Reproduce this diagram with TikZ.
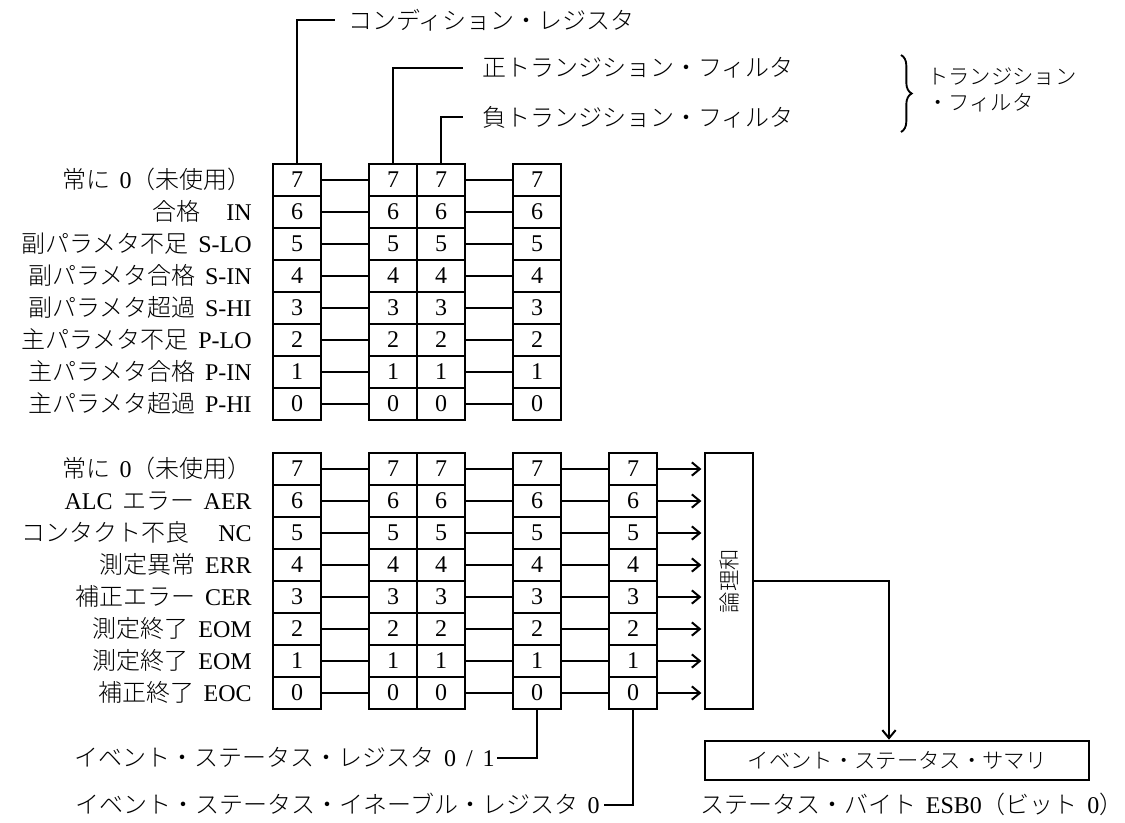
\documentclass[tikz,border=0pt]{standalone}
\usepackage{fontspec}
\setmainfont{Liberation Serif}
\newfontfamily\jpfont{Noto Sans CJK JP}[UprightFont=* Light]
\newcommand\jp[1]{{\jpfont #1}}
\newcommand\gap{\hspace{0.4em}}
\usetikzlibrary{arrows.meta,decorations.pathreplacing}
\begin{document}
\begin{tikzpicture}[x=0.75pt,y=-0.75pt,
  font=\fontsize{18}{21}\selectfont,
  cell/.style={draw,line width=1.4pt,minimum width=36pt,minimum height=24pt,inner sep=0pt},
  link/.style={line width=1pt},
  lead/.style={line width=1.4pt},
  lbl/.style={anchor=base east,inner sep=0pt},
  txt/.style={inner sep=0pt},
  small/.style={font=\fontsize{16}{19}\selectfont},
  arr/.style={line width=1.5pt,-{Straight Barb[length=6pt,width=10pt]},shorten >=2pt},
]
\useasboundingbox (0,0) rectangle (1125,822);

% OR box
\node[draw,line width=1.4pt,minimum width=36pt,minimum height=192pt,inner sep=0pt] (orbox) at (729,581) {};
\node[rotate=90,txt,small] (ortext) at (orbox.center) {\jp{論理和}};

% register cells
\foreach \r in {0,...,7}{
  \pgfmathsetmacro\yt{180+(7-\r)*32}
  \pgfmathsetmacro\yb{469+(7-\r)*32}
  \foreach \c/\x in {1/297,2/393,3/441,4/537}{
    \node[cell] (t\c-\r) at (\x,\yt) {\r};
  }
  \foreach \c/\x in {1/297,2/393,3/441,4/537,5/633}{
    \node[cell] (b\c-\r) at (\x,\yb) {\r};
  }
  \draw[link] (t1-\r) -- (t2-\r);
  \draw[link] (t3-\r) -- (t4-\r);
  \draw[link] (b1-\r) -- (b2-\r);
  \draw[link] (b3-\r) -- (b4-\r);
  \draw[link] (b4-\r) -- (b5-\r);
  \draw[arr] (b5-\r.east) -- (b5-\r.east -| orbox.west);
}

% labels, upper block
\foreach \r/\t in {7/{\jp{常に}\gap 0\jp{（未使用）}},
                   6/{\jp{合格}\hspace{1.1em}IN},
                   5/{\jp{副パラメタ不足}\gap S-LO},
                   4/{\jp{副パラメタ合格}\gap S-IN},
                   3/{\jp{副パラメタ超過}\gap S-HI},
                   2/{\jp{主パラメタ不足}\gap P-LO},
                   1/{\jp{主パラメタ合格}\gap P-IN},
                   0/{\jp{主パラメタ超過}\gap P-HI}}{
  \node[lbl] (tl-\r) at (252,{188+(7-\r)*32}) {\t};
}
% labels, lower block
\foreach \r/\t in {7/{\jp{常に}\gap 0\jp{（未使用）}},
                   6/{ALC\gap\jp{エラー}\gap AER},
                   5/{\jp{コンタクト不良}\hspace{1.2em}NC},
                   4/{\jp{測定異常}\gap ERR},
                   3/{\jp{補正エラー}\gap CER},
                   2/{\jp{測定終了}\gap EOM},
                   1/{\jp{測定終了}\gap EOM},
                   0/{\jp{補正終了}\gap EOC}}{
  \node[lbl] (bl-\r) at (252,{477+(7-\r)*32}) {\t};
}

% top leaders
\node[txt,anchor=west] (cond) at (348,20) {\jp{コンディション・レジスタ}};
\coordinate (condend) at (335,20);
\draw[lead] (t1-7.north) |- (condend);
\node[txt,anchor=west] (pos) at (482,68) {\jp{正トランジション・フィルタ}};
\coordinate (posend) at (463,68);
\draw[lead] (t2-7.north) |- (posend);
\node[txt,anchor=west] (neg) at (482,117) {\jp{負トランジション・フィルタ}};
\coordinate (negend) at (463,117);
\draw[lead] (t3-7.north) |- (negend);

% brace
\coordinate (bracetop) at (901,55);
\coordinate (bracebot) at (901,132);
\draw[line width=1.4pt,decorate,decoration={brace,amplitude=8pt}] (bracetop) -- (bracebot);
\node[txt,anchor=west,small] (tf1) at (927,77) {\jp{トランジション}};
\node[txt,anchor=west,small] (tf2) at (927,103) {\jp{・フィルタ}};

% bottom leaders
\node[txt,anchor=base east] (esr) at (495,766) {\jp{イベント・ステータス・レジスタ}\gap 0 \,/\, 1};
\coordinate (esrend) at (497,758);
\draw[lead] (b4-0.south) |- (esrend);
\node[txt,anchor=base east] (ese) at (600,813) {\jp{イベント・ステータス・イネーブル・レジスタ}\gap 0};
\coordinate (eseend) at (604,805);
\draw[lead] (b5-0.south) |- (eseend);

% summary
\node[draw,line width=1.4pt,minimum width=288pt,minimum height=29.25pt,inner sep=0pt,small] (sum) at (897,760.5) {\jp{イベント・ステータス・サマリ}};
\coordinate (sumin) at (889,741);
\draw[arr,shorten >=1pt] (orbox.east) -| (sumin);
\node[txt,anchor=base west] (esb) at (700,813) {\jp{ステータス・バイト}\gap ESB0\jp{（ビット}\gap 0\jp{）}};
\end{tikzpicture}
\end{document}
